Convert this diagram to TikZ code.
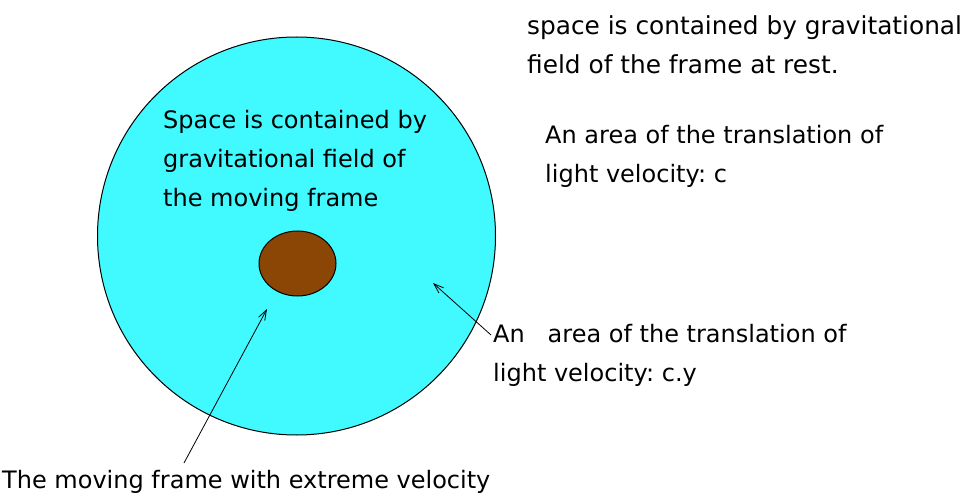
\documentclass[tikz,border=0pt]{standalone}
\usepackage{fontspec}
\setmainfont{DejaVu Sans}
\frenchspacing
\usetikzlibrary{arrows.meta, positioning, shapes.geometric}

\definecolor{fieldcyan}{RGB}{64,250,255}
\definecolor{framebrown}{RGB}{139,70,5}

\begin{document}
\begin{tikzpicture}[
  x=1pt, y=-1pt,
  note/.style={anchor=north west, align=left, inner sep=0pt,
    font=\fontsize{24}{39}\selectfont},
  pointer/.style={draw, -{Straight Barb[length=10pt, width=7pt]}, line width=0.8pt}
]
  \useasboundingbox (0,0) rectangle (961,497);

  % gravitational field of the moving frame
  \node [circle, draw, line width=1pt, fill=fieldcyan, minimum size=398pt,
    inner sep=0pt] (field) at (296.5,236) {};
  \node [ellipse, draw, line width=1pt, fill=framebrown, minimum width=77pt,
    minimum height=65pt, inner sep=0pt] (core) at (297.5,263.5) {};

  \node [note] (fieldtext) at (163,110)
    {Space is contained by\\gravitational field of\\the moving frame};
  \node [note, font=\fontsize{24.8}{39}\selectfont] (restnote) at (527,15)
    {space is contained by gravitational\\field of the frame at rest.};
  \node [note] (cnote) at (545,125)
    {An area of the translation of\\light velocity: c};
  \node [note] (cynote) at (493,324)
    {An \ \ area of the translation of\\light velocity: c.y};
  \node [note] (framenote) at (2,470)
    {The moving frame with extreme velocity};

  \coordinate (frametail) at (184,463);
  \coordinate (frametip) at (267,309);
  \coordinate (cytail) at (491,335);
  \coordinate (cytip) at (433,283);

  \path [pointer] (frametail) -- (frametip);
  \path [pointer] (cytail) -- (cytip);

\end{tikzpicture}
\end{document}
